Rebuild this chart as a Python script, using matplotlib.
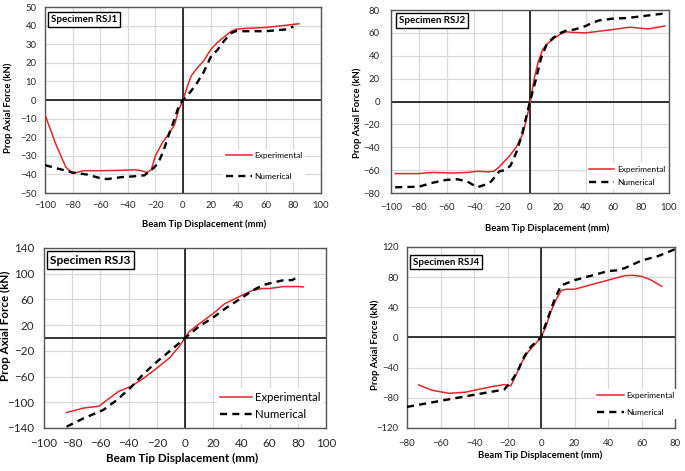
import matplotlib
matplotlib.use('Agg')
import matplotlib.pyplot as plt

plt.rcParams['font.family'] = ['Lato', 'DejaVu Sans']

# ---- data ----
# RSJ1
rsj1_exp_x = [-100, -92, -85, -80, -72, -60, -45, -35, -30, -26, -23, -20, -15, -10, -6, -3, 0,
              3, 6, 10, 15, 20, 25, 30, 35, 38, 45, 60, 70, 84]
rsj1_exp_y = [-8, -24, -36, -39.5, -38, -38, -37.8, -37.5, -38, -39, -37.5, -30, -23, -18, -13, -5, 0,
              7, 13, 17, 21, 27, 31, 34, 37, 38, 38.5, 39, 39.8, 41]
rsj1_num_x = [-100, -90, -80, -70, -60, -55, -45, -35, -28, -22, -18, -14, -10, -6, -3, 0,
              5, 10, 15, 20, 25, 30, 35, 38, 45, 60, 75, 80]
rsj1_num_y = [-35, -37, -39, -40, -42, -42.5, -41.5, -41, -40.5, -37, -34, -27, -18, -10, -3, 0,
              4, 9, 15, 23, 27, 32, 36, 37, 37, 37, 38, 39.5]

# RSJ2
rsj2_exp_x = [-97, -80, -70, -55, -45, -38, -30, -26, -22, -15, -10, -5, 0, 3, 6, 9, 12, 17, 22,
              26, 30, 40, 50, 60, 72, 80, 85, 97]
rsj2_exp_y = [-63, -63, -62, -62.5, -62, -61, -61.5, -61, -57, -48, -40, -28, -2, 20, 35, 45, 50, 55, 59,
              61, 60.5, 60, 61.5, 63, 65, 64, 63.5, 66]
rsj2_num_x = [-97, -80, -70, -60, -52, -45, -38, -33, -28, -22, -18, -14, -10, -6, -2, 0, 4, 8, 12,
              17, 22, 26, 32, 40, 45, 50, 60, 70, 80, 90, 97]
rsj2_num_y = [-75, -74.5, -71, -68.5, -68, -70, -75, -73, -70, -61, -60, -56, -45, -30, -10, 0, 18, 38, 50,
              56, 60, 62, 63, 66, 69, 71, 72.5, 73, 74.5, 76, 77]

# RSJ3
rsj3_exp_x = [-84, -72, -61, -55, -47, -38, -29, -20, -11, -4, 0, 3, 10, 20, 28, 40, 48, 55, 60, 70, 80, 84]
rsj3_exp_y = [-116, -109, -106, -96, -83, -75, -62, -47, -31, -13, 0, 10, 22, 38, 53, 66, 74, 77, 77, 80, 80, 79.5]
rsj3_num_x = [-84, -72, -58, -48, -38, -29, -20, -10, 0, 10, 20, 30, 40, 48, 55, 60, 70, 76, 80]
rsj3_num_y = [-138, -125, -112, -96, -76, -55, -37, -19, 0, 18, 32, 48, 62, 74, 82, 85, 90, 90, 95]

# RSJ4
rsj4_exp_x = [-73, -65, -55, -45, -40, -30, -22, -18, -15, -12, -8, -4, 0, 3, 6, 9, 12, 15, 20,
              30, 40, 50, 55, 60, 65, 72]
rsj4_exp_y = [-63, -70, -74, -72.5, -70, -65.5, -62.5, -64, -50, -35, -20, -10, 0, 15, 35, 50, 62, 64, 64,
              70, 76, 82, 82.5, 81, 77, 68]
rsj4_num_x = [-80, -60, -40, -22, -18, -14, -10, -6, 0, 4, 8, 12, 20, 30, 40, 45, 50, 60, 70, 80]
rsj4_num_y = [-92, -84, -76, -69, -59, -45, -25, -12, 0, 25, 50, 69, 76, 82, 88, 89, 92, 102, 108, 117]

RED = '#e3262b'


def draw_panel(fig, rect, xs, title, xlim, xticks, ylim, yticks, fs, opts):
    ax = fig.add_axes(rect)
    exp_x, exp_y, num_x, num_y = xs
    ax.set_xlim(*xlim)
    ax.set_ylim(*ylim)
    ax.set_xticks(xticks)
    ax.set_yticks(yticks)
    ax.grid(True, color='#d9d9d9', lw=0.9)
    ax.set_axisbelow(True)
    ax.axhline(0, color='black', lw=1.1, zorder=2)
    ax.axvline(0, color='black', lw=1.1, zorder=2)
    ax.plot(exp_x, exp_y, color=RED, lw=1.1, label='Experimental', zorder=3)
    ax.plot(num_x, num_y, color='black', lw=1.7, dashes=(3, 2.2), label='Numerical', zorder=3)
    for s in ax.spines.values():
        s.set_color('#555555')
        s.set_linewidth(1.0)
    ax.tick_params(length=0, labelsize=fs['tick'], colors='#262626')
    ax.tick_params(axis='x', pad=opts['xpad'])
    ax.tick_params(axis='y', pad=opts['ypad'])

    ax.set_xlabel('Beam Tip Displacement (mm)', fontsize=fs['label'], fontweight='bold')
    ax.xaxis.label.set_va('center')
    ax.xaxis.set_label_coords(*opts['xlab'])
    ax.set_ylabel('Prop Axial Force (kN)', fontsize=fs['label'], fontweight='bold')
    ax.yaxis.label.set_va('center')
    ax.yaxis.set_label_coords(*opts['ylab'])

    ax.text(opts['title'][0], opts['title'][1], title, transform=ax.transAxes,
            ha='center', va='center', fontsize=fs['title'], fontweight='bold', zorder=5,
            bbox=dict(boxstyle='square,pad=0.3', fc='white', ec='black', lw=1.0))

    leg = ax.legend(loc='center left', bbox_to_anchor=opts['leg'], fontsize=fs['legend'],
                    frameon=True, fancybox=False, framealpha=1, borderpad=0.3,
                    borderaxespad=0, handlelength=opts['hlen'], handletextpad=0.3,
                    labelspacing=opts['lspace'])
    leg.get_frame().set_edgecolor('none')
    leg.set_zorder(4)
    return ax


fig = plt.figure(figsize=(6.85, 4.71), dpi=100)

small = dict(tick=6.8, label=6.8, title=7.0, legend=6.0)
big = dict(tick=8.4, label=8.4, title=8.6, legend=8.2)

draw_panel(fig, [0.0657, 0.5902, 0.4029, 0.3949],
           (rsj1_exp_x, rsj1_exp_y, rsj1_num_x, rsj1_num_y), 'Specimen RSJ1',
           (-100, 100), range(-100, 101, 20), (-50, 50), range(-50, 51, 10), small,
           dict(xpad=6, ypad=6, xlab=(0.576, -0.167), ylab=(-0.134, 0.46),
                title=(0.141, 0.933), leg=(0.645, 0.145), hlen=3.2, lspace=1.6))

draw_panel(fig, [0.5708, 0.5902, 0.4058, 0.3885],
           (rsj2_exp_x, rsj2_exp_y, rsj2_num_x, rsj2_num_y), 'Specimen RSJ2',
           (-100, 100), range(-100, 101, 20), (-80, 80), range(-80, 81, 20), small,
           dict(xpad=7, ypad=8, xlab=(0.561, -0.191), ylab=(-0.122, 0.44),
                title=(0.147, 0.943), leg=(0.705, 0.093), hlen=3.0, lspace=0.8))

draw_panel(fig, [0.0642, 0.0913, 0.4117, 0.3822],
           (rsj3_exp_x, rsj3_exp_y, rsj3_num_x, rsj3_num_y), 'Specimen RSJ3',
           (-100, 100), range(-100, 101, 20), (-140, 140), range(-140, 141, 40), big,
           dict(xpad=7, ypad=7, xlab=(0.489, -0.167), ylab=(-0.135, 0.57),
                title=(0.165, 0.933), leg=(0.612, 0.122), hlen=2.8, lspace=0.6))

draw_panel(fig, [0.5942, 0.0913, 0.3912, 0.3843],
           (rsj4_exp_x, rsj4_exp_y, rsj4_num_x, rsj4_num_y), 'Specimen RSJ4',
           (-80, 80), range(-80, 81, 20), (-120, 120), range(-120, 121, 40), small,
           dict(xpad=8, ypad=6, xlab=(0.496, -0.149), ylab=(-0.12, 0.46),
                title=(0.147, 0.917), leg=(0.70, 0.133), hlen=3.2, lspace=1.3))

fig.savefig('out.png', dpi=100)
